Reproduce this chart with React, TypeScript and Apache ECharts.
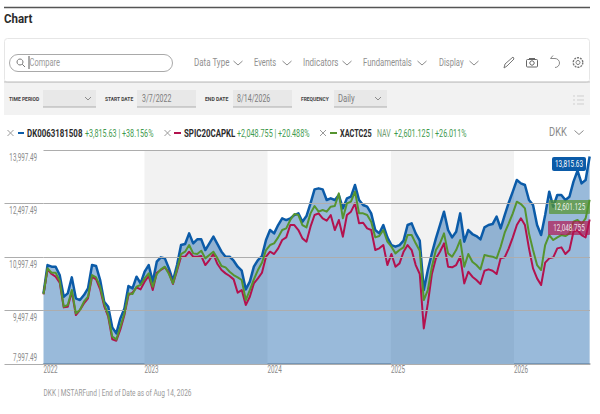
import React, { useEffect, useRef } from "react";
import * as echarts from "echarts";

const START_DATE = "2022-03-07T12:00:00";
const END_DATE = "2026-08-14T12:00:00";
const STEP_DAYS = 12;

const yTicks = [7997.49, 9497.49, 10997.49, 12497.49, 13997.49];
const yTicksWithStub = [7997.49, 9497.49, 10997.49, 12497.49];
const yearTicks = ["2022-03-07T12:00:00", "2023-01-01T00:00:00", "2024-01-01T00:00:00", "2025-01-01T00:00:00", "2026-01-01T00:00:00"];
const shadedYears = [["2023-01-01T00:00:00", "2024-01-01T00:00:00"], ["2025-01-01T00:00:00", "2026-01-01T00:00:00"]];

const dk0063181508 = [
  9978, 10772, 10726, 10726, 10492, 9884, 9978, 10426, 9838, 9791,
  9931, 10118, 10772, 10744, 10352, 9744, 9604, 9024, 8856, 9277,
  9557, 10183, 10118, 10445, 10258, 10585, 10772, 10305, 10866, 10987,
  10959, 10679, 10333, 10772, 11333, 11361, 11660, 11380, 11492,
  11492, 11193, 11380, 11567, 11361, 11146, 11006, 11006, 10894, 10726,
  10613, 10090, 10305, 10726, 10912, 11025, 11473, 11754, 11660, 11894,
  12081, 12034, 12081, 12174, 12221, 11987, 12146, 12501, 12894, 12922,
  12894, 12595, 12642, 12595, 12735, 12361, 12642, 12688, 13016, 12595,
  12455, 12408, 12221, 11754, 11660, 11894, 11548, 11333, 11286,
  11333, 11455, 11894, 11941, 11660, 11455, 10071, 10632, 11099, 11520,
  11894, 12268, 11754, 11548, 11707, 12221, 11427, 11754, 11642, 11585,
  11492, 11829, 11894, 11922, 12128, 11800, 12174, 12520, 12829, 13156,
  13062, 13016, 12595, 12455, 11894, 11614, 12174, 12829, 12408, 12735,
  12735, 12595, 12688, 13109, 13417, 13062, 13156, 13815.63,
];

const xactc25 = [
  9959, 10679, 10557, 10557, 10333, 9604, 9651, 10071, 9417, 9510,
  9744, 9884, 10492, 10426, 10165, 9679, 9370, 8763, 8688, 9043,
  9417, 9978, 9959, 10165, 10211, 10398, 10539, 10165, 10520, 10651,
  10726, 10520, 10258, 10651, 11081, 11146, 11333, 11099, 11081,
  11174, 10959, 11053, 11146, 10959, 10744, 10707, 10585, 10492, 10426,
  10352, 9791, 10071, 10370, 10632, 10838, 11193, 11333, 11380, 11548,
  11754, 11800, 12034, 12202, 12174, 11894, 11828, 12221, 12427, 12268,
  12315, 12268, 12408, 12427, 12782, 12081, 12501, 12548, 12829, 12221,
  12221, 12174, 11987, 11548, 11585, 11754, 11427, 11286, 11099,
  11193, 11268, 11614, 11614, 11380, 11174, 9791, 10071, 10726, 11193,
  11380, 11660, 11099, 11006, 11193, 11473, 10726, 11081, 10866, 10772,
  10651, 11053, 11025, 11006, 10959, 11286, 11679, 11941, 12221, 12548,
  12483, 12361, 11660, 11193, 10772, 10632, 11333, 11614, 11473, 11548,
  11614, 11585, 11660, 11987, 12034, 11922, 12081, 12601.125,
];

const spic20capkl = [
  9950, 10651, 10520, 10445, 10277, 9585, 9604, 10025, 9370, 9510,
  9697, 9838, 10445, 10370, 10090, 9623, 9323, 8688, 8651, 8968,
  9370, 9931, 9997, 10146, 10090, 10305, 10464, 10071, 10557, 10632,
  10707, 10557, 10240, 10613, 11006, 11006, 11146, 11006, 11006,
  11025, 10772, 10912, 11081, 10800, 10632, 10539, 10464, 10370, 9997,
  10071, 9651, 9884, 10258, 10398, 10557, 11006, 11146, 11081, 11240,
  11473, 11548, 11894, 11894, 11754, 11520, 11427, 11847, 12174, 12221,
  12081, 12015, 12174, 11754, 12034, 11567, 12174, 12268, 12501, 11941,
  11959, 11800, 11754, 11193, 11240, 11333, 10772, 11081, 10726,
  10819, 11146, 11333, 11193, 10772, 10520, 8996, 9697, 10520, 10959,
  11146, 11380, 10726, 10707, 10772, 11006, 10258, 10585, 10445, 10352,
  10240, 10613, 10651, 10613, 10520, 10959, 10987, 11240, 11548, 11894,
  12081, 11894, 11240, 10679, 10398, 10211, 10838, 10959, 10987, 11240,
  11268, 11081, 11193, 11707, 11754, 11614, 11548, 12048.755,
];

const BLUE = "#0b5ba8";
const RED = "#b3124e";
const GREEN = "#55942f";
const TEXT_GREEN = "#3f9a4e";
const GRID = "#adadad";
const AXIS_TEXT = "#8a8a8a";
const FONT = '"Roboto", sans-serif';

const GRID_LEFT = 43.5;
const GRID_RIGHT_X = 590;
const GRID_TOP = 150;
const GRID_BOTTOM_Y = 364;

const ts = (s: string) => new Date(s).getTime();
const toPoints = (vals: number[]) => vals.map((v, i) => [ts(START_DATE) + i * STEP_DAYS * 86400000, v]);
const fmtTick = (v: number) => v.toLocaleString("en-US", { minimumFractionDigits: 2, maximumFractionDigits: 2 });

const txt = (text: string, x: number, y: number, fill: string, size = 10, weight = "normal", sx = 0.75, align = "left") => ({
  type: "text", x, y, scaleX: sx, silent: true, z: 20,
  style: { text, fill, fontSize: size, fontWeight: weight, fontFamily: FONT, align, verticalAlign: "middle" },
});
const box = (x: number, y: number, width: number, height: number, fill: string, stroke = "none", r = 0, lineWidth = 1) => ({
  type: "rect", silent: true, z: 5, shape: { x, y, width, height, r },
  style: { fill, stroke: stroke === "none" ? undefined : stroke, lineWidth },
});
const seg = (x1: number, y1: number, x2: number, y2: number, stroke: string, lineWidth = 1) => ({
  type: "line", silent: true, z: 6, shape: { x1, y1, x2, y2 }, style: { stroke, lineWidth },
});
const chevron = (cx: number, cy: number, w = 4.5, h = 4, stroke = "#8c8c8c") => ({
  type: "polyline", silent: true, z: 6,
  shape: { points: [[cx - w, cy - h / 2], [cx, cy + h / 2], [cx + w, cy - h / 2]] },
  style: { stroke, lineWidth: 1, fill: "none" },
});
const cross = (cx: number, cy: number) => [
  seg(cx - 3, cy - 3, cx + 3, cy + 3, "#9a9a9a"),
  seg(cx - 3, cy + 3, cx + 3, cy - 3, "#9a9a9a"),
];

const tickY = (v: number) =>
  GRID_TOP + ((yTicks[yTicks.length - 1] - v) / (yTicks[yTicks.length - 1] - yTicks[0])) * (GRID_BOTTOM_Y - GRID_TOP);
const tickX = (t: number) =>
  GRID_LEFT + ((t - ts(START_DATE)) / (ts(END_DATE) - ts(START_DATE))) * (GRID_RIGHT_X - GRID_LEFT);

const axisTexts: any[] = [
  ...yTicks.map((v, i) => txt(fmtTick(v), 37, i === 0 ? tickY(v) - 7 : tickY(v) + 7, AXIS_TEXT, 10, "normal", 0.63, "right")),
  ...yearTicks.map((d) => txt(String(new Date(d).getFullYear()), tickX(ts(d)), 369, AXIS_TEXT, 10, "normal", 0.63)),
];

const toolbar: any[] = [
  seg(4, 7.5, 590, 7.5, "#555555", 1.5),
  txt("Chart", 4, 19, "#2b2b2b", 12.5, "bold", 0.92),
  box(4.5, 38.5, 585, 44, "#ffffff", "#e6e6e6", 3),
  seg(4, 82, 590, 82, "#b9b9b9"),
  box(4, 83, 586, 32, "#f2f2f2"),
  box(9.5, 54.5, 163, 17, "#ffffff", "#a9a9a9", 8.5),
  { type: "circle", silent: true, z: 6, shape: { cx: 20, cy: 62, r: 3 }, style: { fill: "none", stroke: "#777", lineWidth: 1 } },
  seg(22.2, 64.2, 25, 67, "#777"),
  seg(29, 56, 29, 69, "#555"),
  txt("Compare", 29.5, 63, "#9a9a9a", 10, "normal", 0.75),
  txt("Data Type", 194, 63, "#8f8f8f", 10, "normal", 0.8), chevron(238, 63),
  txt("Events", 254, 63, "#8f8f8f", 10, "normal", 0.75), chevron(287, 63),
  txt("Indicators", 303, 63, "#8f8f8f", 10, "normal", 0.8), chevron(347, 63),
  txt("Fundamentals", 363, 63, "#8f8f8f", 10, "normal", 0.77), chevron(422, 63),
  txt("Display", 439, 63, "#8f8f8f", 10, "normal", 0.76), chevron(474, 63),
  { type: "polyline", silent: true, z: 6, shape: { points: [[504, 68], [505, 64], [513, 57], [514, 59], [507, 66], [504, 68]] }, style: { stroke: "#777", fill: "none", lineWidth: 1 } },
  box(526.5, 59.5, 11, 7.5, "none", "#666", 1),
  seg(529, 58.5, 535, 58.5, "#666"),
  { type: "circle", silent: true, z: 6, shape: { cx: 532, cy: 63, r: 2.2 }, style: { fill: "none", stroke: "#666", lineWidth: 1 } },
  { type: "arc", silent: true, z: 6, shape: { cx: 555, cy: 63, r: 4.5, startAngle: -Math.PI / 2, endAngle: Math.PI / 2, clockwise: true }, style: { fill: "none", stroke: "#8a8a8a", lineWidth: 1 } },
  { type: "polyline", silent: true, z: 6, shape: { points: [[553, 55.5], [550.5, 58.5], [555, 58.5]] }, style: { stroke: "#8a8a8a", fill: "none", lineWidth: 1 } },
  { type: "circle", silent: true, z: 6, shape: { cx: 578, cy: 62.5, r: 2 }, style: { fill: "none", stroke: "#777", lineWidth: 1 } },
  { type: "circle", silent: true, z: 6, shape: { cx: 578, cy: 62.5, r: 4.8 }, style: { fill: "none", stroke: "#777", lineWidth: 1.4, lineDash: [2, 1] } },

  txt("TIME PERIOD", 9, 98.5, "#444444", 6, "bold", 0.83),
  box(43, 90, 53, 17, "#e8e8e8"), seg(43, 107, 96, 107, "#adadad"), chevron(88, 98.5, 3, 3),
  txt("START DATE", 105, 98.5, "#444444", 6, "bold", 0.82),
  box(137, 90, 59, 17, "#e8e8e8"), seg(137, 107, 196, 107, "#adadad"),
  txt("3/7/2022", 142, 98.5, "#7d7d7d", 10, "normal", 0.7),
  txt("END DATE", 205, 98.5, "#444444", 6, "bold", 0.85),
  box(233, 90, 59, 17, "#e8e8e8"), seg(233, 107, 292, 107, "#adadad"),
  txt("8/14/2026", 237, 98.5, "#7d7d7d", 10, "normal", 0.7),
  txt("FREQUENCY", 301, 98.5, "#444444", 6, "bold", 0.82),
  box(334, 90, 53, 17, "#e8e8e8"), seg(334, 107, 387, 107, "#adadad"),
  txt("Daily", 338, 98.5, "#7d7d7d", 10, "normal", 0.77), chevron(378, 98.5, 3, 3),
  seg(573, 96, 575, 96, "#cfcfcf"), seg(577, 96, 584, 96, "#cfcfcf"),
  seg(573, 100, 575, 100, "#cfcfcf"), seg(577, 100, 584, 100, "#cfcfcf"),
  seg(573, 104, 575, 104, "#cfcfcf"), seg(577, 104, 584, 104, "#cfcfcf"),

  ...cross(10.5, 133), seg(18, 133, 24, 133, BLUE, 2),
  txt("DK0063181508", 27, 133.5, "#2b2b2b", 10, "bold", 0.79),
  txt("+3,815.63 | +38.156%", 85, 133.5, TEXT_GREEN, 10, "normal", 0.72),
  ...cross(167.5, 133), seg(174, 133, 181, 133, RED, 2),
  txt("SPIC20CAPKL", 184, 133.5, "#2b2b2b", 10, "bold", 0.79),
  txt("+2,048.755 | +20.488%", 237, 133.5, TEXT_GREEN, 10, "normal", 0.72),
  ...cross(323, 133), seg(330, 133, 337, 133, GREEN, 2),
  txt("XACTC25", 340, 133.5, "#2b2b2b", 10, "bold", 0.73),
  txt("NAV", 377, 133.5, "#6f9a6f", 10, "normal", 0.7),
  txt("+2,601.125 | +26.011%", 394, 133.5, TEXT_GREEN, 10, "normal", 0.72),
  txt("DKK", 549, 132, "#8a8a8a", 12.5, "normal", 0.75), chevron(579, 132.5),
  txt("DKK | MSTARFund | End of Date as of Aug 14, 2026", 43.5, 393, "#9a9a9a", 9.5, "normal", 0.69),

  { ...box(552, 157, 34, 14, BLUE, "none", 2), z: 30 },
  { ...txt("13,815.63", 569, 164, "#ffffff", 9.5, "normal", 0.67, "center"), z: 31 },
  { ...box(549, 200, 41, 14, "rgba(85,148,47,0.72)", "none", 1), z: 30 },
  { ...txt("12,601.125", 569.5, 207, "rgba(255,255,255,0.9)", 9.5, "normal", 0.67, "center"), z: 31 },
  { ...box(548, 221, 42, 14, "rgba(179,18,78,0.68)", "none", 1), z: 30 },
  { ...txt("12,048.755", 569, 228, "rgba(255,255,255,0.85)", 9.5, "normal", 0.67, "center"), z: 31 },
];

export default function App() {
  const ref = useRef<HTMLDivElement | null>(null);
  useEffect(() => {
    document.body.style.margin = "0";
    const chart = echarts.init(ref.current!, undefined, { renderer: "svg" });
    const line = (name: string, vals: number[], color: string, z: number, width: number, extra: any = {}) => ({
      name, type: "line", data: toPoints(vals), showSymbol: false, symbol: "none", z,
      lineStyle: { color, width, join: "round" }, itemStyle: { color }, ...extra,
    });
    chart.setOption({
      animation: false,
      backgroundColor: "#ffffff",
      textStyle: { fontFamily: FONT },
      grid: { left: GRID_LEFT, right: 600 - GRID_RIGHT_X, top: GRID_TOP, bottom: 414 - GRID_BOTTOM_Y, containLabel: false, outerBoundsMode: "none" },
      xAxis: {
        type: "value", min: ts(START_DATE), max: ts(END_DATE), scale: true,
        axisLine: { show: true, lineStyle: { color: GRID, width: 1.5 } },
        axisTick: { show: false }, splitLine: { show: false },
        axisLabel: { show: false },
      },
      yAxis: {
        type: "value", min: yTicks[0], max: yTicks[yTicks.length - 1], scale: true,
        axisLine: { show: false },
        axisTick: { show: true, customValues: yTicksWithStub, length: 39, lineStyle: { color: GRID, width: 1.2 } },
        splitLine: { show: false },
        axisLabel: { show: false },
      },
      graphic: { elements: [...toolbar, ...axisTexts] },
      series: [
        {
          name: "bands", type: "line", data: [], z: 0, silent: true,
          markArea: {
            silent: true, itemStyle: { color: "#f2f2f2" },
            data: shadedYears.map(([a, b]) => [{ xAxis: ts(a) }, { xAxis: ts(b) }]),
          },
          markLine: {
            silent: true, symbol: "none", label: { show: false },
            lineStyle: { color: GRID, width: 1.2, type: "solid" },
            data: yTicks.map((v) => ({ yAxis: v })),
          },
        },
        line("DK0063181508", dk0063181508, BLUE, 3, 2.5, { areaStyle: { color: "#0b5ba8", opacity: 0.42, origin: "start" } }),
        line("SPIC20CAPKL", spic20capkl, RED, 4, 2),
        line("XACTC25", xactc25, GREEN, 5, 2),
      ],
    });
    return () => chart.dispose();
  }, []);
  return <div ref={ref} style={{ width: 600, height: 414 }} />;
}
